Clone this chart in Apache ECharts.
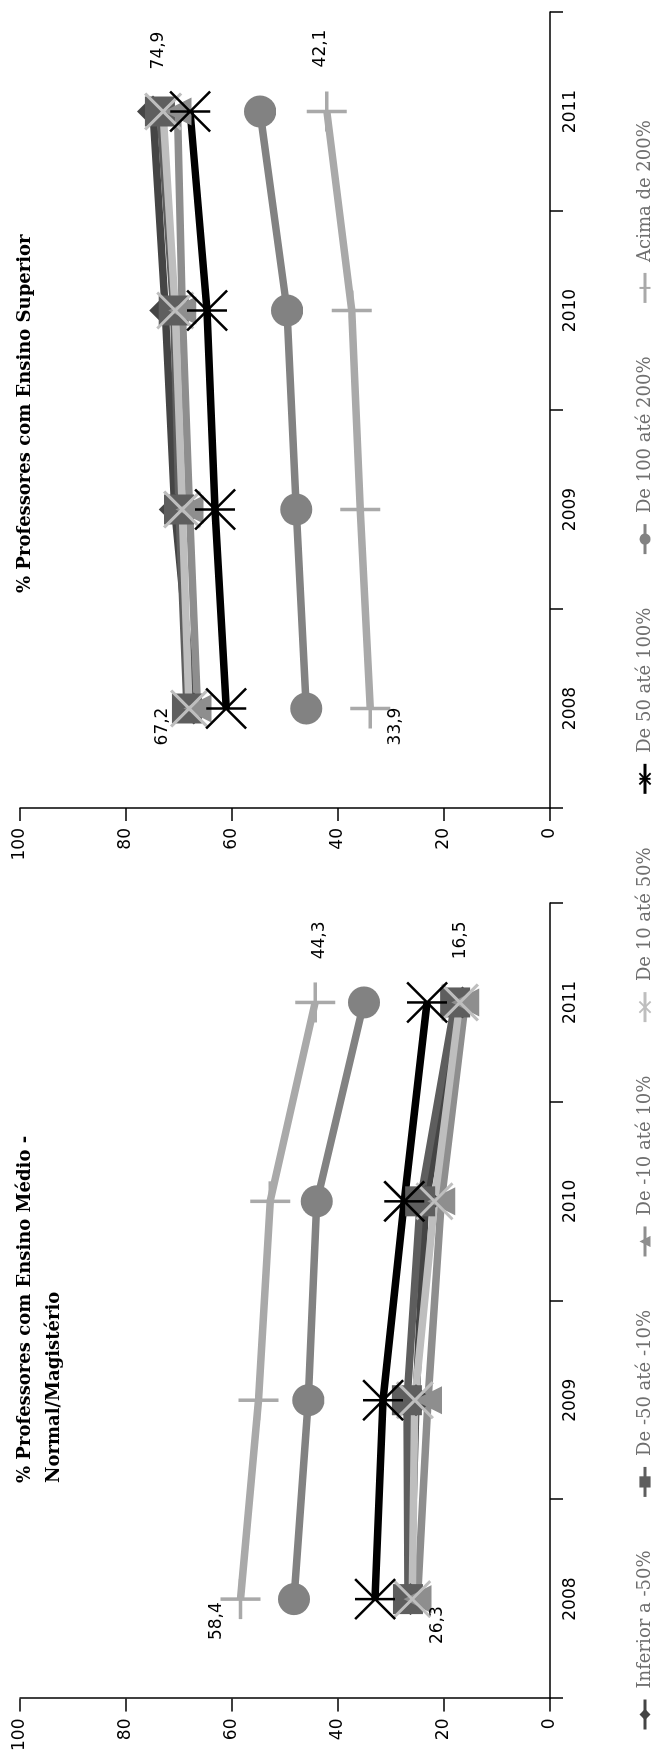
<!DOCTYPE html>
<html>
<head>
<meta charset="utf-8">
<script src="https://cdn.jsdelivr.net/npm/echarts@6/dist/echarts.min.js"></script>
<style>
  html, body { margin: 0; padding: 0; background: #fff; overflow: hidden; }
  body { width: 654px; height: 1754px; position: relative; }
  /* landscape page turned a quarter turn counter-clockwise */
  #page {
    position: absolute; left: 0; top: 0;
    width: 1754px; height: 654px;
    transform-origin: 0 0;
    transform: translate(0px, 1754px) rotate(-90deg);
  }
  #chart { width: 1754px; height: 654px; }
</style>
</head>
<body>
<div id="page"><div id="chart"></div></div>
<script>
// Categories and group names
const years = ['2008', '2009', '2010', '2011'];
const groups = ['Inferior a -50%', 'De -50 até -10%', 'De -10 até 10%', 'De 10 até 50%',
                'De 50 até 100%', 'De 100 até 200%', 'Acima de 200%'];
const valueTicks = [0, 20, 40, 60, 80, 100];

// % Professores com Ensino Médio - Normal/Magistério
const medioInferior50  = [26.3, 25.3, 23.5, 16.5];
const medioMenos50a10  = [26.8, 27.0, 24.5, 17.9];
const medioMenos10a10  = [25.0, 23.0, 20.5, 16.0];
const medio10a50       = [26.0, 25.5, 21.8, 17.0];
const medio50a100      = [33.0, 31.5, 27.5, 23.2];
const medio100a200     = [48.3, 45.6, 44.0, 35.1];
const medioAcima200    = [58.4, 55.0, 52.8, 44.3];

// % Professores com Ensino Superior
const supInferior50    = [67.2, 70.8, 72.6, 74.9];
const supMenos50a10    = [68.5, 70.0, 71.0, 73.6];
const supMenos10a10    = [66.5, 68.0, 69.4, 70.3];
const sup10a50         = [68.1, 69.4, 70.7, 73.0];
const sup50a100        = [61.1, 63.2, 64.7, 67.9];
const sup100a200       = [46.0, 47.9, 49.6, 54.7];
const supAcima200      = [33.9, 35.8, 37.4, 42.1];

// Marker shapes (stroked outline paths for the line-type markers)
const X_MARK = 'path://M0,0L100,100M100,0L0,100';
const STAR_MARK = 'path://M0,0L100,100M100,0L0,100M50,0L50,100';
const PLUS_MARK = 'path://M50,0L50,100M0,50L100,50';

const styles = [
  { color: '#454545', symbol: 'diamond',  size: 32, stroke: false },
  { color: '#5e5e5e', symbol: 'rect',     size: 30, stroke: false },
  { color: '#8e8e8e', symbol: 'triangle', size: 28, stroke: false },
  { color: '#bebebe', symbol: X_MARK,     size: 36, stroke: true, bw: 3 },
  { color: '#000000', symbol: STAR_MARK,  size: 40, stroke: true, bw: 2.5 },
  { color: '#828282', symbol: 'circle',   size: 32, stroke: false },
  { color: '#a9a9a9', symbol: PLUS_MARK,  size: 40, stroke: true, bw: 3.5 }
];

const fmt = v => v.toFixed(1).replace('.', ',');

// labelled points: series index -> {pointIndex: [dx, dy]}
function buildSeries(values, gridIndex, labelled) {
  return values.map((arr, i) => {
    const st = styles[i];
    const marks = labelled[i] || {};
    const data = arr.map((v, j) => {
      if (marks[j]) {
        return {
          value: v,
          label: {
            show: true, position: 'inside', offset: marks[j],
            formatter: p => fmt(p.value),
            color: '#000', fontFamily: 'DejaVu Sans', fontSize: 17
          }
        };
      }
      return v;
    });
    return {
      type: 'line',
      name: groups[i],
      xAxisIndex: gridIndex, yAxisIndex: gridIndex,
      data: data,
      symbol: st.symbol,
      symbolSize: st.size,
      showAllSymbol: true,
      animation: false,
      color: st.color,
      lineStyle: { color: st.color, width: 7.5 },
      itemStyle: st.stroke
        ? { color: st.color, borderColor: st.color, borderWidth: st.bw }
        : { color: st.color, borderWidth: 0 },
      emphasis: { disabled: true },
      label: { show: false }
    };
  });
}

const medioSeries = buildSeries(
  [medioInferior50, medioMenos50a10, medioMenos10a10, medio10a50, medio50a100, medio100a200, medioAcima200],
  0,
  { 0: { 0: [-26, 27], 3: [62, -2] }, 6: { 0: [-22, -24], 3: [62, 4] } }
);
const supSeries = buildSeries(
  [supInferior50, supMenos50a10, supMenos10a10, sup10a50, sup50a100, sup100a200, supAcima200],
  1,
  { 0: { 0: [-18, -31], 3: [61, 6] }, 6: { 0: [-18, 25], 3: [63, -6] } }
);

function catAxis(gridIndex) {
  return {
    type: 'category', gridIndex: gridIndex, data: years, boundaryGap: true,
    axisLine: { show: true, lineStyle: { color: '#000', width: 1.5 } },
    axisTick: { show: true, length: 13, lineStyle: { color: '#000', width: 1.5 } },
    axisLabel: { color: '#000', fontFamily: 'DejaVu Sans', fontSize: 17, margin: 12 },
    splitLine: { show: false }
  };
}
function valAxis(gridIndex) {
  return {
    type: 'value', gridIndex: gridIndex, min: valueTicks[0], max: valueTicks[valueTicks.length - 1],
    interval: valueTicks[1] - valueTicks[0],
    axisLine: { show: true, lineStyle: { color: '#000', width: 1.5 } },
    axisTick: { show: true, length: 13, lineStyle: { color: '#000', width: 1.5 } },
    axisLabel: { color: '#000', fontFamily: 'DejaVu Sans', fontSize: 17, margin: 20 },
    splitLine: { show: false }
  };
}

const titleStyle = { color: '#000', fontFamily: 'DejaVu Serif', fontWeight: 'bold', fontSize: 18, lineHeight: 29 };

const chart = echarts.init(document.getElementById('chart'), null, { renderer: 'canvas', devicePixelRatio: 1 });
chart.setOption({
  backgroundColor: '#fff',
  animation: false,
  title: [
    { text: '% Professores com Ensino Médio -\nNormal/Magistério', left: 266, top: 6, textStyle: titleStyle },
    { text: '% Professores com Ensino Superior', left: 1156, top: 6, textStyle: titleStyle }
  ],
  grid: [
    { left: 54, top: 20, width: 797, height: 530 },
    { left: 946, top: 20, width: 796, height: 530 }
  ],
  xAxis: [catAxis(0), catAxis(1)],
  yAxis: [valAxis(0), valAxis(1)],
  legend: {
    data: groups,
    left: 18, top: 631,
    itemWidth: 30, itemHeight: 14, itemGap: 52,
    lineStyle: { width: 3 },
    textStyle: { color: '#6f6f6f', fontFamily: 'DejaVu Serif', fontSize: 18, padding: [0, 0, 0, 6] },
    selectedMode: false
  },
  series: medioSeries.concat(supSeries)
});
</script>
</body>
</html>
